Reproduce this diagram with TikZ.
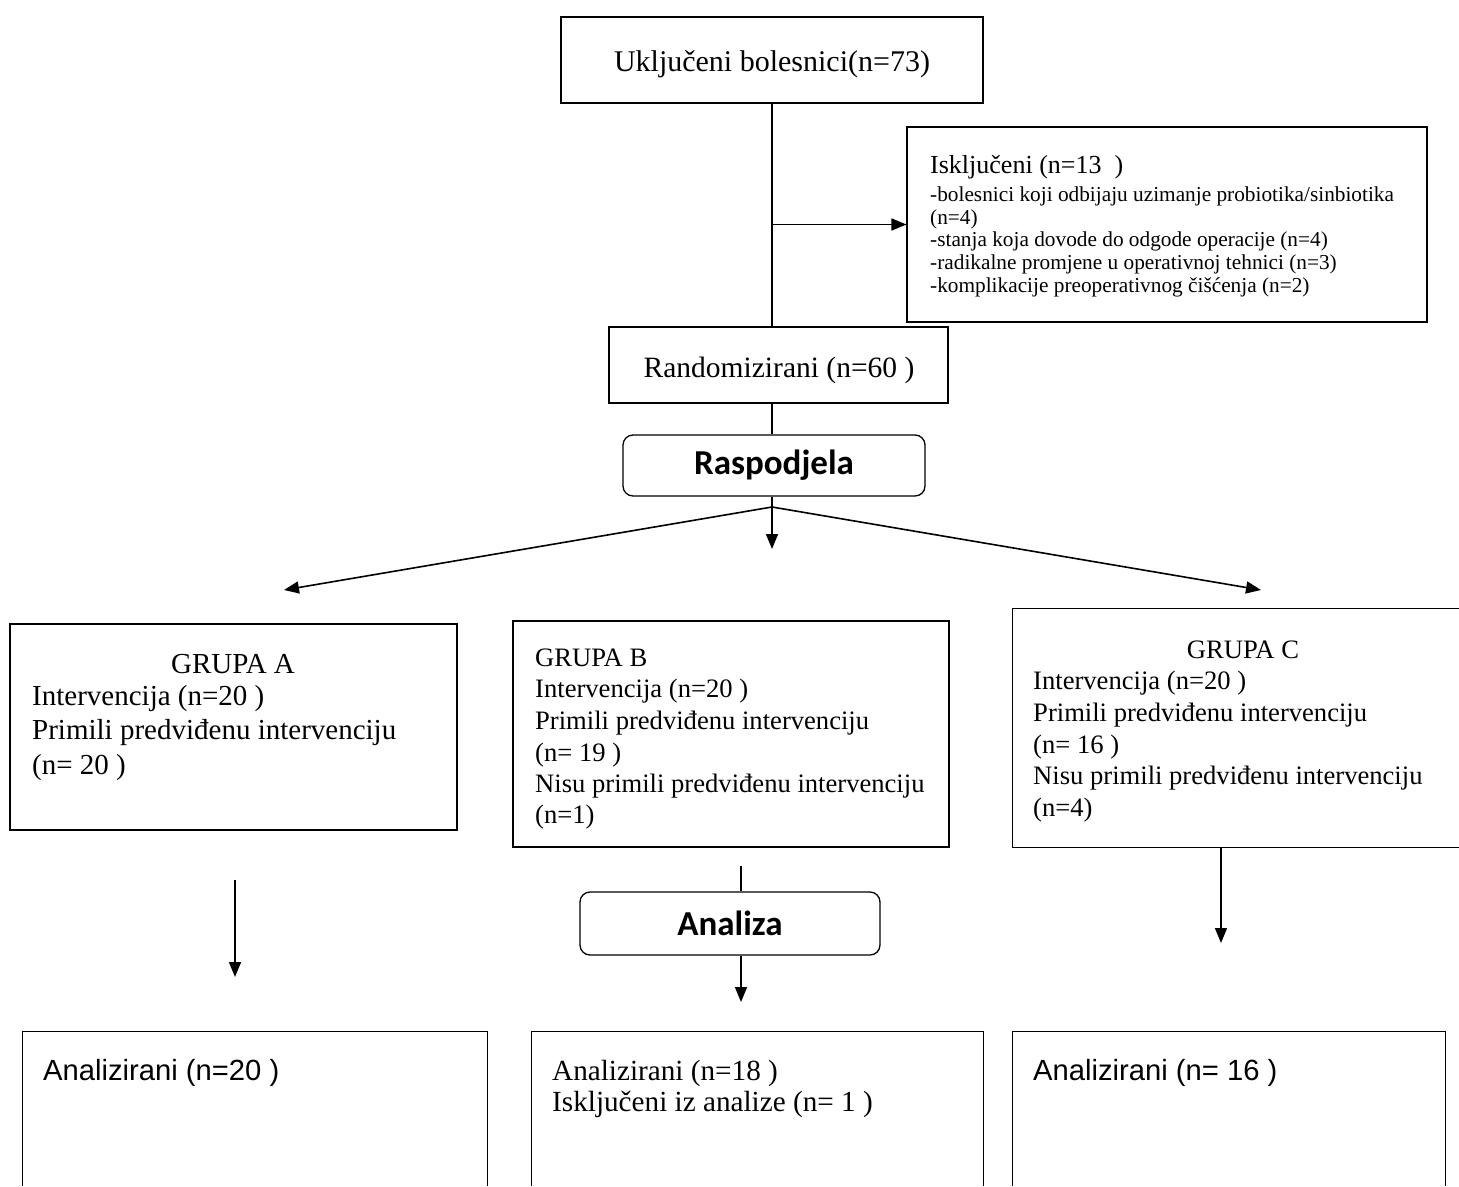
\documentclass[tikz,border=0pt]{standalone}
\usepackage{fontspec}
\setmainfont{Liberation Serif}
\newfontfamily\arialf{Liberation Sans}
\newfontfamily\calib{Carlito}
\usetikzlibrary{arrows.meta}
\begin{document}
\begin{tikzpicture}[x=1pt,y=-1pt,
  box/.style={draw, rectangle, inner sep=0pt, line width=1.1pt},
  rbox/.style={draw, rectangle, rounded corners=10pt, inner sep=0pt, line width=1.3pt},
  obox/.style={rectangle, inner sep=0pt},
  conn/.style={line width=1.6pt},
  arr/.style={line width=1.6pt, -{Triangle[length=15pt,width=12pt]}},
  txt/.style={inner sep=0pt, anchor=base west},
  ctxt/.style={inner sep=0pt, anchor=base},
  tbig/.style={font=\fontsize{30}{34}\selectfont},
  trand/.style={font=\fontsize{29.5}{34}\selectfont},
  tga/.style={font=\fontsize{29}{34}\selectfont},
  tgb/.style={font=\fontsize{26.6}{31}\selectfont},
  tsm/.style={font=\fontsize{21.3}{23}\selectfont},
  tex/.style={font=\fontsize{26}{30}\selectfont},
  tbot/.style={font=\fontsize{29.2}{33}\selectfont},
  tsans/.style={font=\arialf\fontsize{29.2}{33}\selectfont},
  tbold/.style={font=\calib\bfseries\fontsize{35}{42}\selectfont}
]
\useasboundingbox (0,0) rectangle (1459,1186);

% boxes
\node[box, minimum width=422pt, minimum height=86pt] (top) at (772,60) {};
\node[ctxt, tbig] (toptext) at (772,71) {Uključeni bolesnici(n=73)};
\node[box, minimum width=520pt, minimum height=195pt] (excl) at (1167,224.5) {};
\node[box, minimum width=339pt, minimum height=76pt] (rand) at (778.5,365) {};
\node[ctxt, trand] (randtext) at (779,377) {Randomizirani (n=60 )};
\node[rbox, minimum width=302pt, minimum height=61pt, tbold] (rasp) at (774,465.5) {Raspodjela};
\node[box, minimum width=447pt, minimum height=206pt] (ga) at (233.5,727) {};
\node[box, minimum width=436pt, minimum height=226pt] (gb) at (731,734) {};
\node[obox, minimum width=446pt, minimum height=238pt] (gc) at (1236,728) {};
\draw[line width=1.1pt] (gc.north east) -| (gc.south west) -- (gc.south east);
\node[rbox, minimum width=300pt, minimum height=63pt, tbold] (anl) at (730,923.5) {Analiza};
\node[obox, minimum width=464pt, minimum height=154pt] (ba) at (255,1109) {};
\node[obox, minimum width=451pt, minimum height=154pt] (bb) at (757.5,1109) {};
\node[obox, minimum width=432pt, minimum height=154pt] (bc) at (1229,1109) {};
\foreach \b in {ba,bb,bc}{
  \draw[line width=1.1pt] (\b.south west) |- (\b.north east) -- (\b.south east);
}

% excluded text
\node[txt, tex] (e0) at (930,173) {Isključeni (n=13\ \ )};
\node[txt, tsm] (e1) at (930,201) {-bolesnici koji odbijaju uzimanje probiotika/sinbiotika};
\node[txt, tsm] (e2) at (930,224) {(n=4)};
\node[txt, tsm] (e3) at (930,246) {-stanja koja dovode do odgode operacije (n=4)};
\node[txt, tsm] (e4) at (930,269) {-radikalne promjene u operativnoj tehnici (n=3)};
\node[txt, tsm] (e5) at (930,292) {-komplikacije preoperativnog čišćenja (n=2)};

% group A
\node[ctxt, tga] (a0) at (233,673) {GRUPA A};
\node[txt, tga] (a1) at (32,705) {Intervencija (n=20 )};
\node[txt, tga] (a2) at (32,739) {Primili predviđenu intervenciju};
\node[txt, tga] (a3) at (32,774) {(n= 20 )};

% group B
\node[txt, tgb] (b0) at (535,666) {GRUPA B};
\node[txt, tgb] (b1) at (535,697) {Intervencija (n=20 )};
\node[txt, tgb] (b2) at (535,729) {Primili predviđenu intervenciju};
\node[txt, tgb] (b3) at (535,761) {(n= 19 )};
\node[txt, tgb] (b4) at (535,792) {Nisu primili predviđenu intervenciju};
\node[txt, tgb] (b5) at (535,823) {(n=1)};

% group C
\node[ctxt, tgb] (c0) at (1243,658) {GRUPA C};
\node[txt, tgb] (c1) at (1033,689) {Intervencija (n=20 )};
\node[txt, tgb] (c2) at (1033,721) {Primili predviđenu intervenciju};
\node[txt, tgb] (c3) at (1033,753) {(n= 16 )};
\node[txt, tgb] (c4) at (1033,784) {Nisu primili predviđenu intervenciju};
\node[txt, tgb] (c5) at (1033,816) {(n=4)};

% bottom texts
\node[txt, tsans] (ta) at (43,1080) {Analizirani (n=20 )};
\node[txt, tbot] (tb1) at (552,1080) {Analizirani (n=18 )};
\node[txt, tbot] (tb2) at (552,1111) {Isključeni iz analize (n= 1 )};
\node[txt, tsans] (tc) at (1033,1080) {Analizirani (n= 16 )};

% connectors
\coordinate (k1) at (772,224.5);
\draw[conn] (top.south -| k1) -- (rand.north -| k1);
\draw[arr] (k1) -- (excl.west);
\coordinate (J) at (772,507);
\draw[conn] (rand.south -| J) -- (rasp.north -| J);
\draw[conn] (rasp.south -| J) -- (J);
\coordinate (dM) at (772,549);
\coordinate (dL) at (284,590);
\coordinate (dR) at (1261,590);
\draw[arr] (J) -- (dM);
\draw[arr] (J) -- (dL);
\draw[arr] (J) -- (dR);
\coordinate (aA1) at (235,880);
\coordinate (aA2) at (235,977);
\draw[arr] (aA1) -- (aA2);
\coordinate (bL) at (741,866);
\draw[conn] (bL) -- (bL |- anl.north);
\coordinate (bE) at (741,1002);
\draw[arr] (bE |- anl.south) -- (bE);
\coordinate (cE) at (1221,943);
\draw[arr] (cE |- gc.south) -- (cE);
\end{tikzpicture}
\end{document}
